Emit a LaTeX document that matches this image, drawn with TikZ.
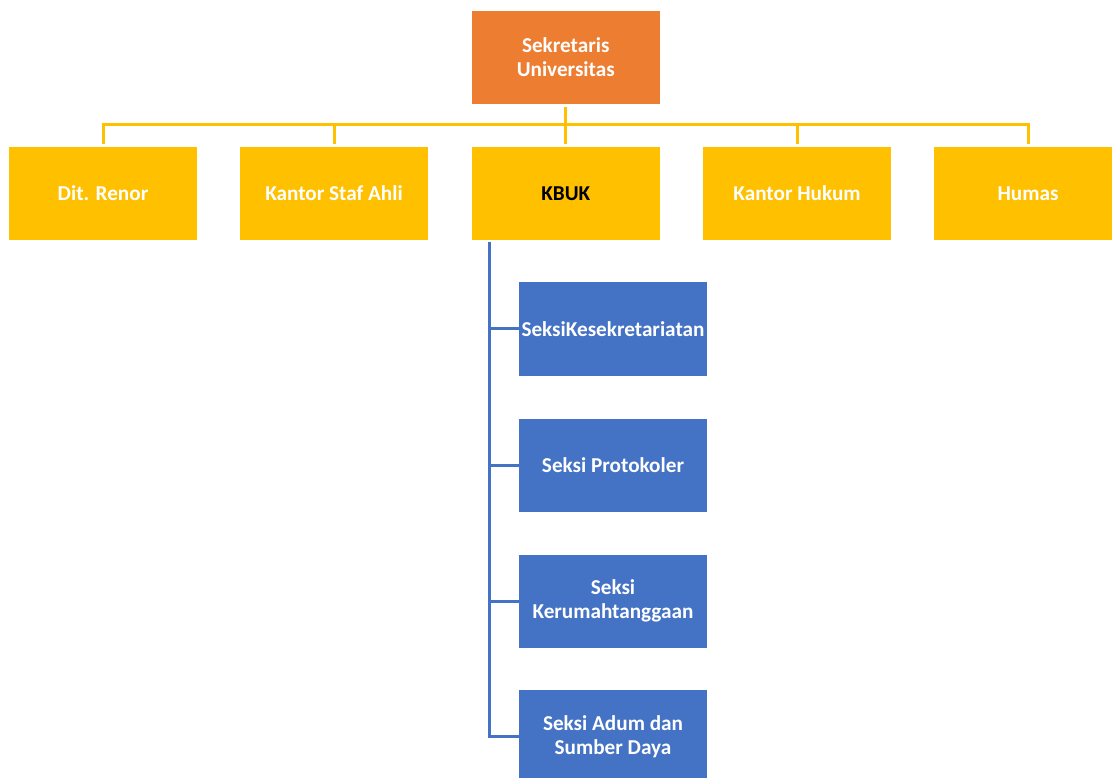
\documentclass[tikz,border=0pt]{standalone}
\usepackage{fontspec}
\setmainfont{Carlito}
\definecolor{orgc}{HTML}{ED7D31}
\definecolor{yelc}{HTML}{FFC000}
\definecolor{bluc}{HTML}{4472C4}
\tikzset{
  box/.style={rectangle, minimum width=188pt, minimum height=93pt, inner sep=0pt,
    font=\fontsize{21.2}{24}\selectfont\bfseries, text=white, align=center},
  topbox/.style={box, fill=orgc},
  midbox/.style={box, fill=yelc},
  subbox/.style={box, fill=bluc},
  yline/.style={draw=yelc, line width=3pt},
  bline/.style={draw=bluc, line width=3pt},
}
\begin{document}
\begin{tikzpicture}[x=1pt, y=-1pt]
\useasboundingbox (0,0) rectangle (1112,778);
\clip (0,0) rectangle (1112,778);
\node[topbox] (sek) at (565.75,57.5) {Sekretaris\\Universitas};
\node[midbox] (ren) at (103,193.5) {Dit. Renor};
\node[midbox] (staf) at (334,193.5) {Kantor Staf Ahli};
\node[midbox, text=black] (kbuk) at (565.75,193.5) {KBUK};
\node[midbox] (huk) at (797,193.5) {Kantor Hukum};
\node[midbox] (hum) at (1028,193.5) {Humas};
\node[subbox] (s1) at (613,329) {SeksiKesekretariatan};
\node[subbox] (s2) at (613,465) {Seksi Protokoler};
\node[subbox] (s3) at (613,601) {Seksi\\Kerumahtanggaan};
\node[subbox] (s4) at (613,736.5) {Seksi Adum dan\\Sumber Daya};
% yellow bus
\coordinate (busl) at (103,125);
\coordinate (busr) at (1028,125);
\coordinate (busc) at (565.75,125);
\draw[yline] ([yshift=-3pt]sek.south) -- (busc);
\draw[yline, line cap=rect] (busl) -- (busr);
\draw[yline] (busl) -- ([yshift=3pt]ren.north);
\draw[yline] (busl -| staf.north) -- ([yshift=3pt]staf.north);
\draw[yline] (busc) -- ([yshift=3pt]kbuk.north);
\draw[yline] (busl -| huk.north) -- ([yshift=3pt]huk.north);
\draw[yline] (busr) -- ([yshift=3pt]hum.north);
% blue spine
\coordinate (spt) at (489,242);
\coordinate (spb) at (489,737.5);
\draw[bline] (spt) -- (spb);
\draw[bline] (spt |- s1.west) -- (s1.west);
\draw[bline] (spt |- s2.west) -- (s2.west);
\draw[bline] (spt |- s3.west) -- (s3.west);
\draw[bline] (spb |- s4.west) -- (s4.west);
\end{tikzpicture}
\end{document}
